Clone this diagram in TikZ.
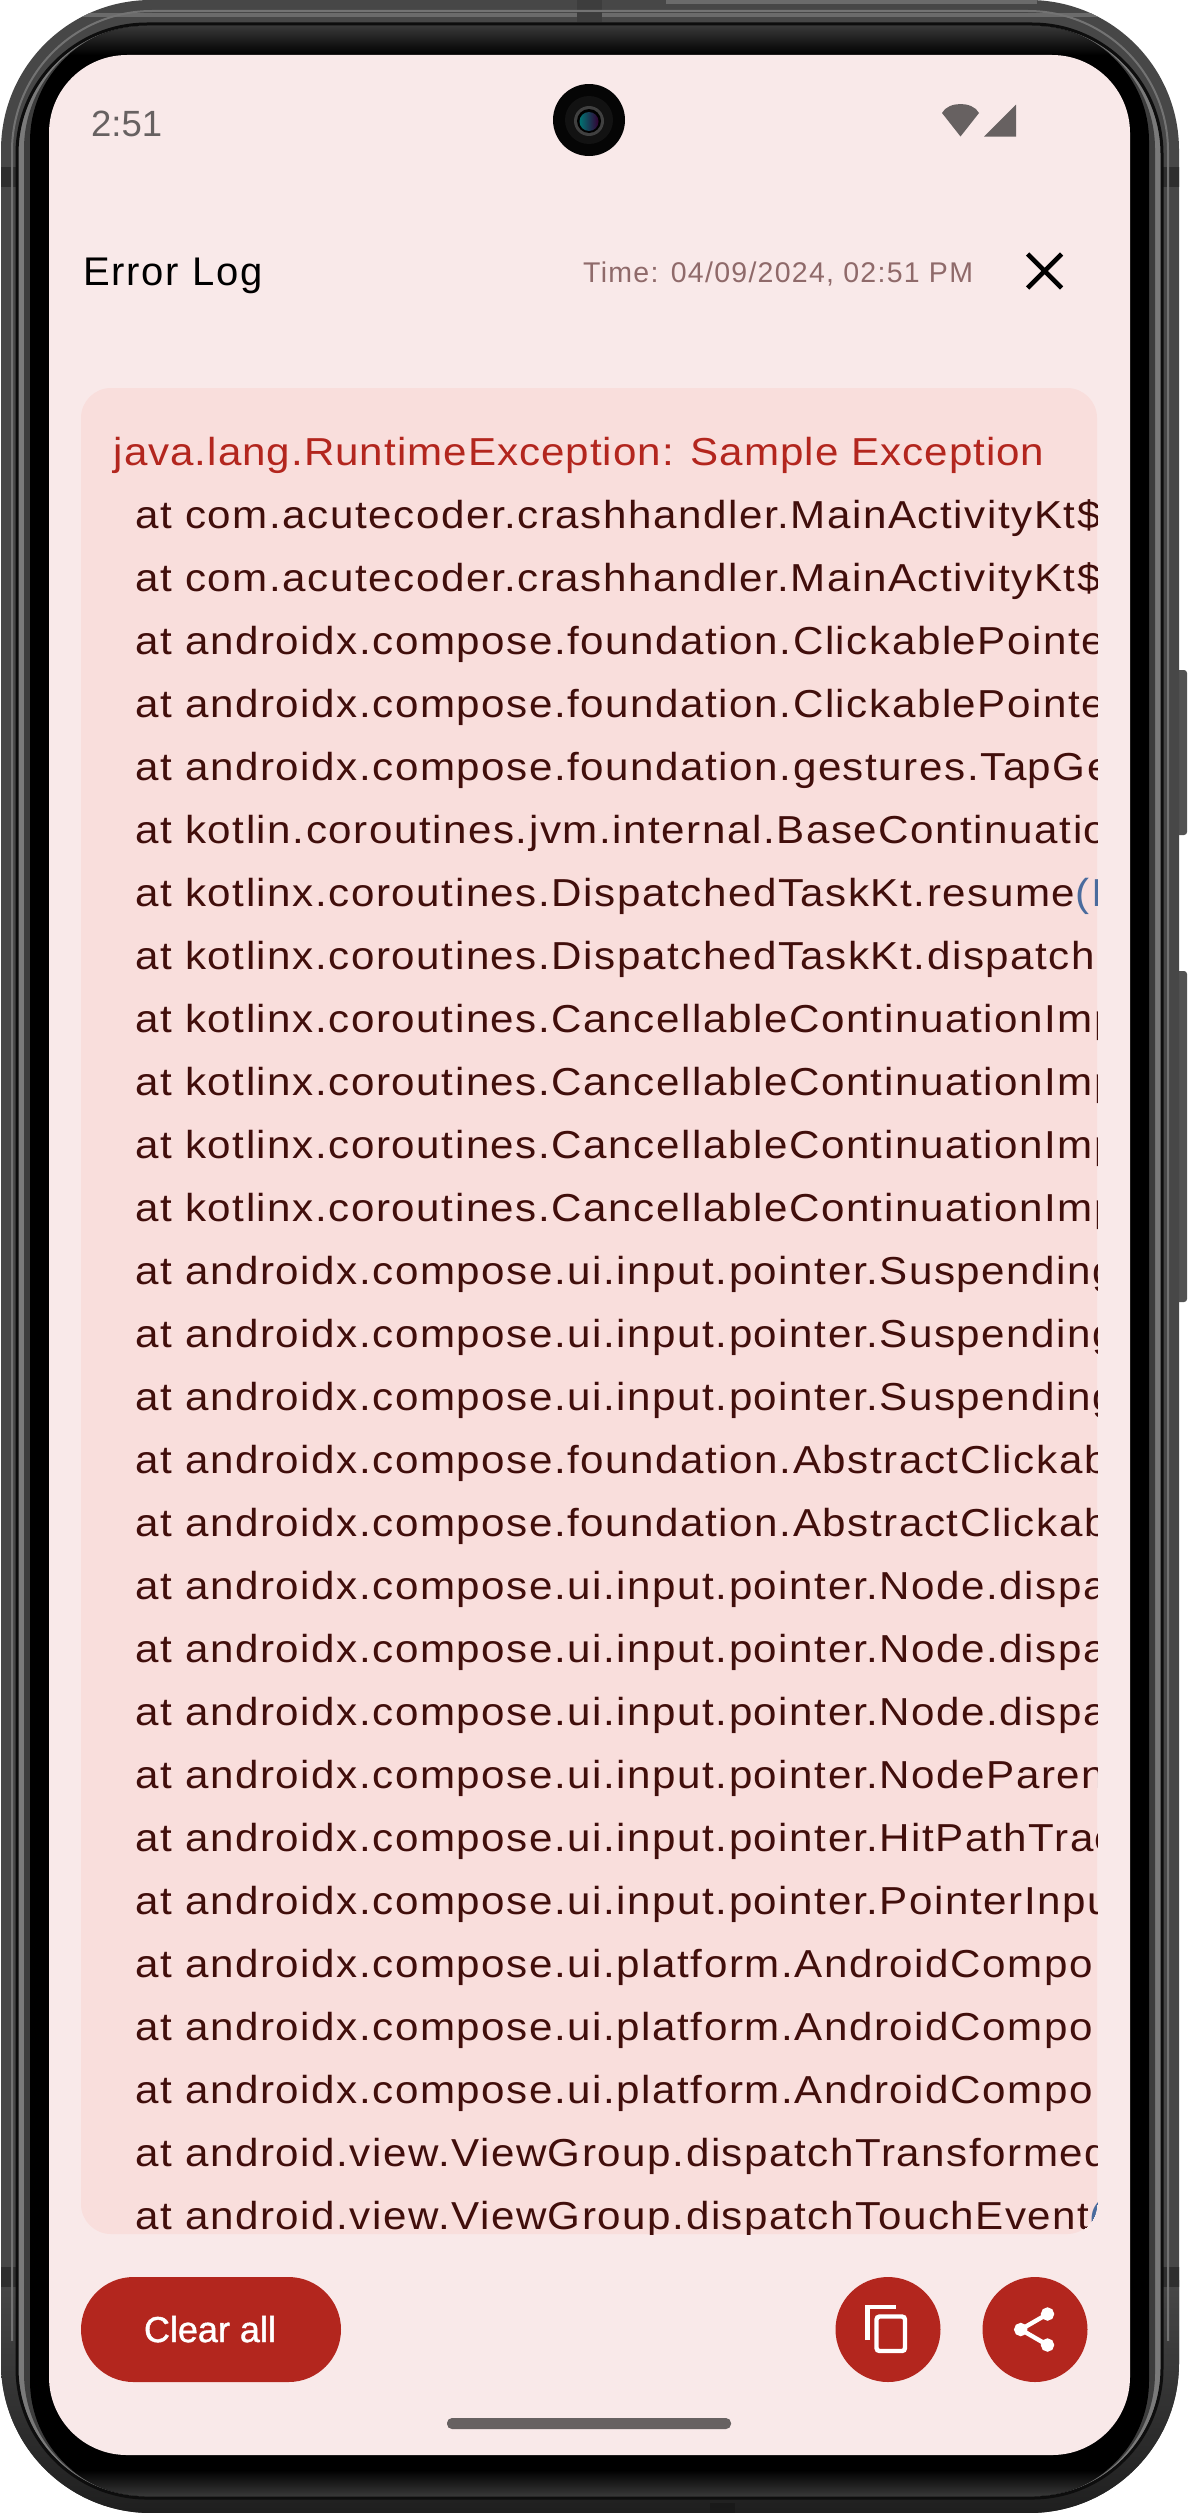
\documentclass[tikz,border=0pt]{standalone}
\usepackage{fontspec}
\setmainfont{Liberation Sans}
\newfontfamily\logFam[LetterSpace=4,FakeStretch=1.08]{Liberation Sans}
\newfontfamily\excFam[LetterSpace=2.6,FakeStretch=1.08]{Liberation Sans}
\newfontfamily\titleFam[LetterSpace=4.5]{Liberation Sans}
\newfontfamily\mediumFam[FakeBold=1.2]{Liberation Sans}
\usepackage{xcolor}
\definecolor{pantallaApp}{HTML}{F9E9E9}
\definecolor{panelApp}{HTML}{F9DEDC}
\definecolor{errorApp}{HTML}{B3261E}
\definecolor{textoApp}{HTML}{410E0B}
\definecolor{horaApp}{HTML}{8F6A6A}
\definecolor{azulApp}{HTML}{4A6B9D}
\definecolor{grisApp}{HTML}{676161}
\usetikzlibrary{positioning}

\begin{document}
\begin{tikzpicture}[x=1pt,y=-1pt,
    textNode/.style={inner sep=0pt,anchor=base west},
    logLine/.style={textNode,text=textoApp,font=\logFam\fontsize{39}{39}\selectfont},
    iconLine/.style={draw=white,line width=4.4pt},
    roundBtn/.style={circle,fill=errorApp,minimum size=105pt,inner sep=0pt}]

\fill[white] (0,0) rectangle (1187,2513);
\useasboundingbox (0,0) rectangle (1187,2513);

% Botones laterales
\fill[rounded corners=3pt,black!68] (1187,670) -- (1176,670) -- (1176,835) -- (1187,835) -- cycle;
\fill[rounded corners=3pt,black!68] (1187,971) -- (1176,971) -- (1176,1302) -- (1187,1302) -- cycle;

% Marco exterior
\begin{scope}
\clip[rounded corners=150pt] (1,0) rectangle (1179,2513);
\fill[black!72] (0,0) rectangle (1187,2513);
\shade[top color=black!72,bottom color=black!88] (0,2280) rectangle (1187,2513);
\fill[black!58] (666,0) rectangle (1037,4);
\fill[black!58] (0,13) rectangle (1187,17);
\fill[black!76] (577,0) rectangle (602,22);
\foreach \yBand in {167,2267}
  \fill[black!82] (0,\yBand) rectangle (1187,\yBand+20);
\fill[black!90] (710,2503) rectangle (735,2513);
\end{scope}
\begin{scope}
\clip (0,0) rectangle (1187,2340);
\draw[black!55,line width=2pt,rounded corners=140pt] (12,11) rectangle (1168,2503);
\end{scope}

% Banda interior
\fill[black!52,rounded corners=130pt] (18,25) rectangle (1161,2497);
\fill[black!76,rounded corners=124pt] (24,25) rectangle (1155,2497);
\draw[black!95,line width=3pt,rounded corners=130pt] (17,24) rectangle (1162,2498);
\begin{scope}
\clip[rounded corners=115pt] (30,26) rectangle (1149,2496);
\fill[black] (0,0) rectangle (1187,2513);
\shade[top color=black!78,bottom color=black] (0,26) rectangle (1187,55);
\shade[top color=black,bottom color=black!78] (0,2470) rectangle (1187,2496);
\end{scope}

% Pantalla
\fill[pantallaApp,rounded corners=78pt] (49,55) rectangle (1130,2455);

% Camara
\fill[black!98] (589,120) circle (36);
\fill[black!93] (589,120) circle (24);
\fill[black!75] (589,121) circle (15);
\fill[black] (589,121) circle (12);
\shade[left color=cyan!45!black,right color=violet!40!black] (589,121.5) circle (9.5);

% Barra de estado
\node[textNode,text=grisApp,font=\fontsize{36.5}{36}\selectfont] (hora) at (91,136) {2:51};
\fill[grisApp] (960.5,136.5) -- (942,113) .. controls (945,107) and (953,104) .. (960.5,104)
  .. controls (968,104) and (976,107) .. (979,113) -- cycle;
\fill[grisApp] (1016,104.5) -- (1016,136.5) -- (984,136.5) -- cycle;

% Cabecera
\node[textNode,font=\titleFam\fontsize{40}{40}\selectfont] (titulo) at (83,285) {Error Log};
\node[textNode,text=horaApp,font=\titleFam\fontsize{28.5}{29}\selectfont] (fecha) at (583,282) {Time: 04/09/2024, 02:51 PM};
\draw[black,line width=4.6pt] (1027.5,254) -- (1061.5,288) (1061.5,254) -- (1027.5,288);

% Panel del log
\fill[panelApp,rounded corners=30pt] (81,388) rectangle (1097,2234);
\begin{scope}
\clip[rounded corners=30pt] (81,388) rectangle (1097,2234);
\node[logLine,text=errorApp,font=\excFam\fontsize{39}{39}\selectfont] (excepcion) at (113.5,465) {java.lang.RuntimeException: Sample Exception};
\foreach \traza [count=\i from 0] in {
    com.acutecoder.crashhandler.MainActivityKt\$,
    com.acutecoder.crashhandler.MainActivityKt\$,
    androidx.compose.foundation.ClickablePointe,
    androidx.compose.foundation.ClickablePointe,
    androidx.compose.foundation.gestures.TapGe,
    kotlin.coroutines.jvm.internal.BaseContinuatio,
    kotlinx.coroutines.DispatchedTaskKt.resume{\color{azulApp}(I},
    kotlinx.coroutines.DispatchedTaskKt.dispatch,
    kotlinx.coroutines.CancellableContinuationImp,
    kotlinx.coroutines.CancellableContinuationImp,
    kotlinx.coroutines.CancellableContinuationImp,
    kotlinx.coroutines.CancellableContinuationImp,
    androidx.compose.ui.input.pointer.Suspending,
    androidx.compose.ui.input.pointer.Suspending,
    androidx.compose.ui.input.pointer.Suspending,
    androidx.compose.foundation.AbstractClickab,
    androidx.compose.foundation.AbstractClickab,
    androidx.compose.ui.input.pointer.Node.dispa,
    androidx.compose.ui.input.pointer.Node.dispa,
    androidx.compose.ui.input.pointer.Node.dispa,
    androidx.compose.ui.input.pointer.NodeParen,
    androidx.compose.ui.input.pointer.HitPathTrac,
    androidx.compose.ui.input.pointer.PointerInpu,
    androidx.compose.ui.platform.AndroidCompo,
    androidx.compose.ui.platform.AndroidCompo,
    androidx.compose.ui.platform.AndroidCompo,
    android.view.ViewGroup.dispatchTransformed,
    android.view.ViewGroup.dispatchTouchEvent{\color{azulApp}(V}}
  \node[logLine] (traza\i) at (135,{528+\i*63}) {at \traza};
\end{scope}

% Botones inferiores
\fill[errorApp,rounded corners=52.5pt] (81,2277) rectangle (341,2382);
\node[textNode,anchor=base,text=white,font=\mediumFam\fontsize{36}{36}\selectfont] (limpiar) at (210,2342) {Clear all};
\node[roundBtn] (copiar) at (888,2329.5) {};
\node[roundBtn] (compartir) at (1035,2329.5) {};

% Icono copiar
\draw[iconLine] (867.5,2340) -- (867.5,2307) -- (896,2307);
\draw[iconLine,rounded corners=3pt] (876.5,2316.5) rectangle (905,2351);

% Icono compartir
\draw[iconLine,fill=white] (1047.5,2314) circle (4.4) -- (1020.7,2329.5) circle (4.4) -- (1047.5,2345) circle (4.4);

% Barra de inicio
\fill[grisApp,rounded corners=5pt] (447,2418) rectangle (731,2429);

\end{tikzpicture}
\end{document}
